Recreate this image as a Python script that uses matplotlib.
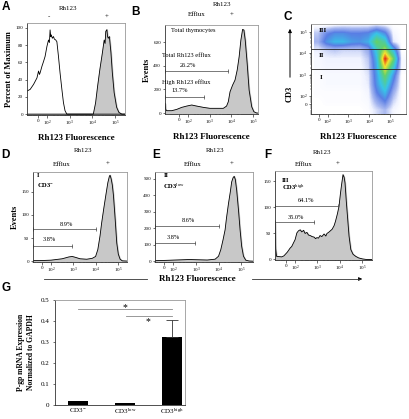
import matplotlib
matplotlib.use("Agg")
import matplotlib.pyplot as plt
import numpy as np
from matplotlib.colors import LinearSegmentedColormap
from matplotlib.lines import Line2D

plt.rcParams["font.family"] = ["Liberation Serif", "DejaVu Serif"]
plt.rcParams["mathtext.fontset"] = "custom"
plt.rcParams["mathtext.rm"] = "Liberation Serif"
plt.rcParams["mathtext.it"] = "Liberation Serif:italic"
plt.rcParams["mathtext.bf"] = "Liberation Serif:bold"

W, H = 409, 419

# ---- data (x in decades: 0 = 10^2, 1 = 10^3, ...) ----
# A: unstained (-) and stained (+)
a_neg_x = [-0.89, -0.75, -0.60, -0.45, -0.38, -0.34, -0.31, -0.23, -0.16, -0.09, -0.01, 0.06, 0.10,
           0.13, 0.16, 0.18, 0.23, 0.28, 0.32, 0.38, 0.43, 0.50, 0.57, 0.65, 0.72, 0.79, 0.87, 3.44]
a_neg_y = [26.8, 28.7, 34.5, 42, 50, 46, 48, 55.5, 61, 67, 78.5, 86, 83,
           97.7, 90, 92, 88, 90, 87, 86, 84, 67, 48, 29, 13.4, 4, 0, 0]
a_pos_x = [-0.89, 2.04, 2.14, 2.23, 2.33, 2.44, 2.52, 2.56, 2.59, 2.64, 2.67, 2.70, 2.75, 2.82, 2.88,
           2.96, 3.07, 3.17, 3.30, 3.44]
a_pos_y = [0, 0, 13, 32.5, 52, 71, 86, 82, 96, 98, 90, 88, 90, 71, 48,
           25, 8, 2, 0, 0]

# B: total thymocytes
b_x = [-1.06, -1.03, -0.98, -0.75, -0.52, -0.29, -0.06, 0.17, 0.40, 0.71, 1.01, 1.32, 1.63, 1.78,
       1.86, 1.94, 2.06, 2.17, 2.27, 2.36, 2.44, 2.52, 2.58, 2.64, 2.73, 2.82, 2.94, 3.04, 3.17, 3.23]
b_y = [82, 30, 20, 20, 31, 48, 59, 68, 59, 48, 40, 40, 40, 59,
       96, 180, 237, 279, 363, 476, 617, 707, 701, 617, 420, 194, 53, 11, 0, 0]

# C: CD3 vs Rh123 density (rows top -> bottom, cols left -> right)
c_density = np.array([
    [0.00, 0.00, 0.02, 0.03, 0.03, 0.03, 0.03, 0.05, 0.03, 0.00, 0.00],
    [0.10, 0.22, 0.28, 0.28, 0.25, 0.25, 0.27, 0.40, 0.28, 0.03, 0.00],
    [0.13, 0.30, 0.38, 0.38, 0.32, 0.30, 0.36, 0.62, 0.50, 0.06, 0.00],
    [0.05, 0.08, 0.10, 0.08, 0.08, 0.08, 0.15, 0.45, 0.72, 0.40, 0.00],
    [0.02, 0.04, 0.04, 0.04, 0.04, 0.04, 0.10, 0.38, 1.00, 0.62, 0.02],
    [0.02, 0.03, 0.03, 0.03, 0.03, 0.03, 0.08, 0.35, 0.80, 0.45, 0.02],
    [0.01, 0.02, 0.02, 0.02, 0.02, 0.02, 0.06, 0.32, 0.62, 0.30, 0.00],
    [0.01, 0.02, 0.02, 0.02, 0.02, 0.02, 0.05, 0.30, 0.50, 0.22, 0.00],
    [0.01, 0.01, 0.01, 0.01, 0.01, 0.01, 0.03, 0.24, 0.38, 0.14, 0.00],
    [0.00, 0.01, 0.01, 0.01, 0.01, 0.01, 0.02, 0.15, 0.25, 0.08, 0.00],
    [0.00, 0.00, 0.00, 0.00, 0.00, 0.00, 0.01, 0.07, 0.12, 0.03, 0.00],
])
c_gates = [2.19, 1.24]

# D: gate I (CD3-)
d_x = [-0.81, -0.5, 0.0, 0.5, 0.8, 0.95, 1.1, 1.3, 1.6, 1.85, 2.0, 2.1, 2.2, 2.27, 2.37, 2.47,
       2.55, 2.62, 2.65, 2.7, 2.75, 2.8, 2.88, 2.95, 3.02, 3.1, 3.2, 3.41]
d_y = [1, 1, 2, 5, 9, 10, 8, 5, 4, 6, 10, 25, 55, 82, 115, 146,
       170, 184, 186, 178, 165, 143, 90, 39, 15, 4, 0.5, 0]

# E: gate II (CD3 low)
e_x = [-0.79, -0.3, 0.3, 0.7, 1.0, 1.5, 1.85, 2.0, 2.1, 2.2, 2.29, 2.35, 2.44, 2.52, 2.58,
       2.64, 2.69, 2.74, 2.8, 2.88, 2.95, 3.02, 3.1, 3.2, 3.35, 3.52]
e_y = [3, 5, 8, 10, 9, 7, 12, 30, 70, 130, 190, 260, 350, 420, 480,
       505, 514, 495, 430, 310, 190, 90, 30, 6, 1, 0]

# F: gate III (CD3 high)
f_x = [-0.9, -0.87, -0.83, -0.6, -0.5, -0.35, -0.22, -0.15, -0.07, 0.0, 0.08, 0.15, 0.23, 0.3,
       0.38, 0.45, 0.53, 0.6, 0.68, 0.76, 0.85, 0.92, 0.98, 1.05, 1.12, 1.2, 1.3, 1.38, 1.43,
       1.5, 1.58, 1.66, 1.75, 1.81, 1.9, 1.97, 2.03, 2.08, 2.15, 2.2, 2.24, 2.3, 2.35, 2.42,
       2.5, 2.6, 2.72, 2.85, 3.03, 3.2, 3.45]
f_y = [70, 20, 6, 5, 7, 14, 22, 25, 32, 38, 51, 55, 57, 53,
       56, 50, 52, 47, 46, 44, 43, 40, 42, 41, 46, 44, 49, 45, 50,
       52, 55, 58, 65, 73, 88, 102, 125, 142, 163, 158, 147, 110, 83, 45,
       19, 10, 6, 3, 1, 0, 0]

# G: P-gp mRNA
g_labels = ["CD3$^{-}$", "CD3$^{\\mathrm{low}}$", "CD3$^{\\mathrm{high}}$"]
g_values = [0.02, 0.008, 0.325]
g_err = [0, 0, 0.081]

tick_pos = [-0.4, 0, 1, 2, 3]
tick_lab = ["0", "10$^2$", "10$^3$", "10$^4$", "10$^5$"]
minor_pos = [-0.8, -0.7, -0.6, -0.5, -0.3, -0.2, -0.1] + \
    [k + np.log10(m) for k in range(3) for m in range(2, 10)]

fig = plt.figure(figsize=(W / 100, H / 100), dpi=100)


def px_axes(x0, y0, x1, y1):
    return fig.add_axes([x0 / W, 1 - y1 / H, (x1 - x0) / W, (y1 - y0) / H])


def ftext(x, y, s, **kw):
    kw.setdefault("ha", "center")
    kw.setdefault("va", "center")
    fig.text(x / W, 1 - y / H, s, **kw)


def letter(x, y, s):
    ftext(x, y, s, fontsize=8.5, fontweight="bold", family="Liberation Sans")


def style_box(ax):
    for side in ["left", "bottom"]:
        ax.spines[side].set_linewidth(0.6)
        ax.spines[side].set_color("#333333")
    for side in ["top", "right"]:
        ax.spines[side].set_linewidth(0.6)
        ax.spines[side].set_color("#999999")
    ax.tick_params(labelsize=3.6, length=1.8, width=0.4, pad=1)
    ax.tick_params(which="minor", length=1.0, width=0.3)


def style_hist(ax, xlim, ylim, yticks):
    ax.set_xlim(xlim)
    ax.set_ylim(ylim)
    ax.set_xticks(tick_pos)
    ax.set_xticklabels(tick_lab)
    ax.set_xticks(minor_pos, minor=True)
    ax.set_yticks(yticks)
    style_box(ax)


def gate(ax, x0, x1, y, label, tx, ty):
    ax.plot([x0, x1], [y, y], color="#444444", lw=0.5, marker="|", ms=3, mew=0.5, clip_on=False)
    ax.text(tx, ty, label, fontsize=4.6, ha="center", va="center")


# ---- A ----
ax = px_axes(27, 23, 125, 115)
ax.plot(a_neg_x, a_neg_y, color="black", lw=0.6)
ax.fill_between(a_pos_x, a_pos_y, color="#c8c8c8")
ax.plot(a_pos_x, a_pos_y, color="black", lw=0.6)
style_hist(ax, (-0.89, 3.44), (-1, 105.7), [0, 20, 40, 60, 80, 100])
ax.set_ylabel("Percent of Maximum", fontsize=6, fontweight="bold", labelpad=2)
ax.set_xlabel("Rh123 Fluorescence", fontsize=6.5, fontweight="bold", labelpad=4)
letter(6, 7, "A")
ftext(68, 8, "Rh123", fontsize=5)
ftext(49, 17, "-", fontsize=5)
ftext(107, 17, "+", fontsize=5)

# ---- B ----
ax = px_axes(165, 25, 258, 114)
ax.fill_between(b_x, b_y, color="#c8c8c8")
ax.plot(b_x, b_y, color="black", lw=0.6)
style_hist(ax, (-1.06, 3.23), (-8, 744), [0, 200, 400, 600])
ax.set_ylabel("Events", fontsize=6, fontweight="bold", labelpad=2)
ax.set_xlabel("Rh123 Fluorescence", fontsize=6.5, fontweight="bold", labelpad=4)
gate(ax, -1.06, 1.86, 355, "26.2%", 0.0, 406)
gate(ax, -1.06, 0.75, 132, "13.7%", -0.37, 194)
ax.text(-0.05, 490, "Total Rh123 efflux", fontsize=4.6, ha="center", va="center")
ax.text(-0.06, 265, "High Rh123 efflux", fontsize=4.6, ha="center", va="center")
ax.text(0.23, 696, "Total thymocytes", fontsize=4.6, ha="center", va="center")
letter(135, 12, "B")
ftext(222, 5, "Rh123", fontsize=5)
ftext(197, 15, "Efflux", fontsize=5)
ftext(232, 15, "+", fontsize=5)

# ---- C ----
ax = px_axes(311, 24, 406, 114)
dens_cmap = LinearSegmentedColormap.from_list(
    "dens", [(0, "white"), (0.04, "#f0f3ff"), (0.12, "#a8b8f0"), (0.25, "#5a7ee4"),
             (0.4, "#38c4e8"), (0.6, "#60d070"), (0.8, "#f2e22e"), (1.0, "#e61e10")])
ax.imshow(c_density, cmap=dens_cmap, vmin=0, vmax=1, extent=(-0.65, 3.75, -0.86, 3.54),
          origin="upper", aspect="auto", interpolation="bilinear")
for gy in c_gates:
    ax.axhline(gy, color="#222222", lw=0.6)
ax.set_xlim(-0.65, 3.77)
ax.set_ylim(-0.86, 3.38)
ax.set_xticks(tick_pos)
ax.set_xticklabels(tick_lab)
ax.set_xticks(minor_pos, minor=True)
ax.set_yticks(tick_pos)
ax.set_yticklabels(tick_lab)
ax.set_yticks(minor_pos, minor=True)
style_box(ax)
ax.set_xlabel("Rh123 Fluorescence", fontsize=6.5, fontweight="bold", labelpad=4)
ax.text(-0.23, 3.06, "III", fontsize=5, fontweight="bold", ha="center", va="center")
ax.text(-0.28, 1.9, "II", fontsize=5, fontweight="bold", ha="center", va="center")
ax.text(-0.31, 0.87, "I", fontsize=5, fontweight="bold", ha="center", va="center")
letter(288, 17, "C")
ftext(290, 94, "CD3", fontsize=6, fontweight="bold", rotation=90)
ax.annotate("", xy=(290, H - 26), xytext=(290, H - 80), xycoords="figure pixels",
            textcoords="figure pixels",
            arrowprops=dict(arrowstyle="-|>", color="black", lw=0.7, mutation_scale=5))

# ---- D / E / F ----
panels = [
    (px_axes(33, 172, 127, 262), d_x, d_y, (-0.81, 3.41), (-2, 193), [0, 50, 100, 150],
     "I", "CD3$^{-}$", [(2.02, 68.7, "8.9%", 0.7, 79.4), (0.93, 32.8, "3.8%", -0.08, 45.7)],
     (0.04, 0.965, 0.84)),
    (px_axes(155, 172, 253, 262), e_x, e_y, (-0.79, 3.52), (-5, 540), [0, 100, 200, 300, 400, 500],
     "II", "CD3$^{\\mathrm{low}}$", [(2.0, 216, "8.6%", 0.67, 248), (0.97, 112, "3.8%", 0.01, 146)],
     (0.085, 0.965, 0.845)),
    (px_axes(275, 171, 372, 260), f_x, f_y, (-0.9, 3.45), (-1, 170), [0, 50, 100, 150],
     "III", "CD3$^{\\mathrm{high}}$", [(1.91, 102, "64.1%", 0.48, 113.6), (0.87, 71.5, "35.0%", 0.03, 80)],
     (0.075, 0.89, 0.815)),
]
for ax, xs, ys, xl, yl, yt, g1, g2, gates, lab in panels:
    ax.fill_between(xs, ys, color="#c8c8c8")
    ax.plot(xs, ys, color="black", lw=0.6)
    style_hist(ax, xl, yl, yt)
    for x1, gy, txt, tx, ty in gates:
        gate(ax, xl[0], x1, gy, txt, tx, ty)
    ax.text(lab[0], lab[1], g1, transform=ax.transAxes, fontsize=4.8, fontweight="bold",
            ha="left", va="center")
    ax.text(lab[0], lab[2], g2, transform=ax.transAxes, fontsize=4.8, fontweight="bold",
            ha="left", va="center")

panels[0][0].set_ylabel("Events", fontsize=6, fontweight="bold", labelpad=2)

letter(5, 155, "D")
ftext(83, 150, "Rh123", fontsize=5)
ftext(62, 164, "Efflux", fontsize=5)
ftext(108, 164, "+", fontsize=5)
letter(156, 155, "E")
ftext(215, 150, "Rh123", fontsize=5)
ftext(193, 164, "Efflux", fontsize=5)
ftext(232, 164, "+", fontsize=5)
letter(268, 155, "F")
ftext(322, 152, "Rh123", fontsize=5)
ftext(304, 164, "Efflux", fontsize=5)
ftext(338, 164, "+", fontsize=5)

# shared x label for D-F
ftext(197, 279, "Rh123 Fluorescence", fontsize=6.5, fontweight="bold")
fig.add_artist(Line2D([44 / W, 147 / W], [1 - 279 / H, 1 - 279 / H], color="#333333", lw=0.6))
fig.add_artist(Line2D([252 / W, 360 / W], [1 - 279 / H, 1 - 279 / H], color="#333333", lw=0.6))
ax.annotate("", xy=(365, H - 279), xytext=(356, H - 279), xycoords="figure pixels",
            textcoords="figure pixels",
            arrowprops=dict(arrowstyle="-|>", color="black", lw=0.6, mutation_scale=5))

# ---- G ----
ax = px_axes(55, 300, 185, 405)
gx = np.arange(len(g_values))
ax.bar(gx, g_values, width=0.42, color="black")
ax.errorbar(gx[2], g_values[2], yerr=[[0], [g_err[2]]], fmt="none", ecolor="#333333",
            elinewidth=0.6, capsize=4, capthick=0.6)
ax.set_xlim(-0.49, 2.28)
ax.set_ylim(0, 0.5)
ax.set_xticks(gx)
ax.set_xticklabels(g_labels)
ax.set_yticks([0, 0.1, 0.2, 0.3, 0.4, 0.5])
ax.set_yticklabels(["0", "0.1", "0.2", "0.3", "0.4", "0.5"])
style_box(ax)
ax.tick_params(axis="y", labelsize=5, pad=2)
ax.tick_params(axis="x", labelsize=5, length=0, pad=1)
ax.plot([0, 2], [0.456, 0.456], color="#888888", lw=0.6)
ax.plot([1.02, 2], [0.422, 0.422], color="#888888", lw=0.6)
ax.text(1.0, 0.466, "*", fontsize=7, ha="center", va="center")
ax.text(1.49, 0.398, "*", fontsize=7, ha="center", va="center")
ax.set_ylabel("P-gp mRNA Expression\nNormalized to GAPDH", fontsize=5.5, fontweight="bold",
              labelpad=4, linespacing=1.3)
letter(6, 288, "G")

fig.savefig("out.png", dpi=100)
